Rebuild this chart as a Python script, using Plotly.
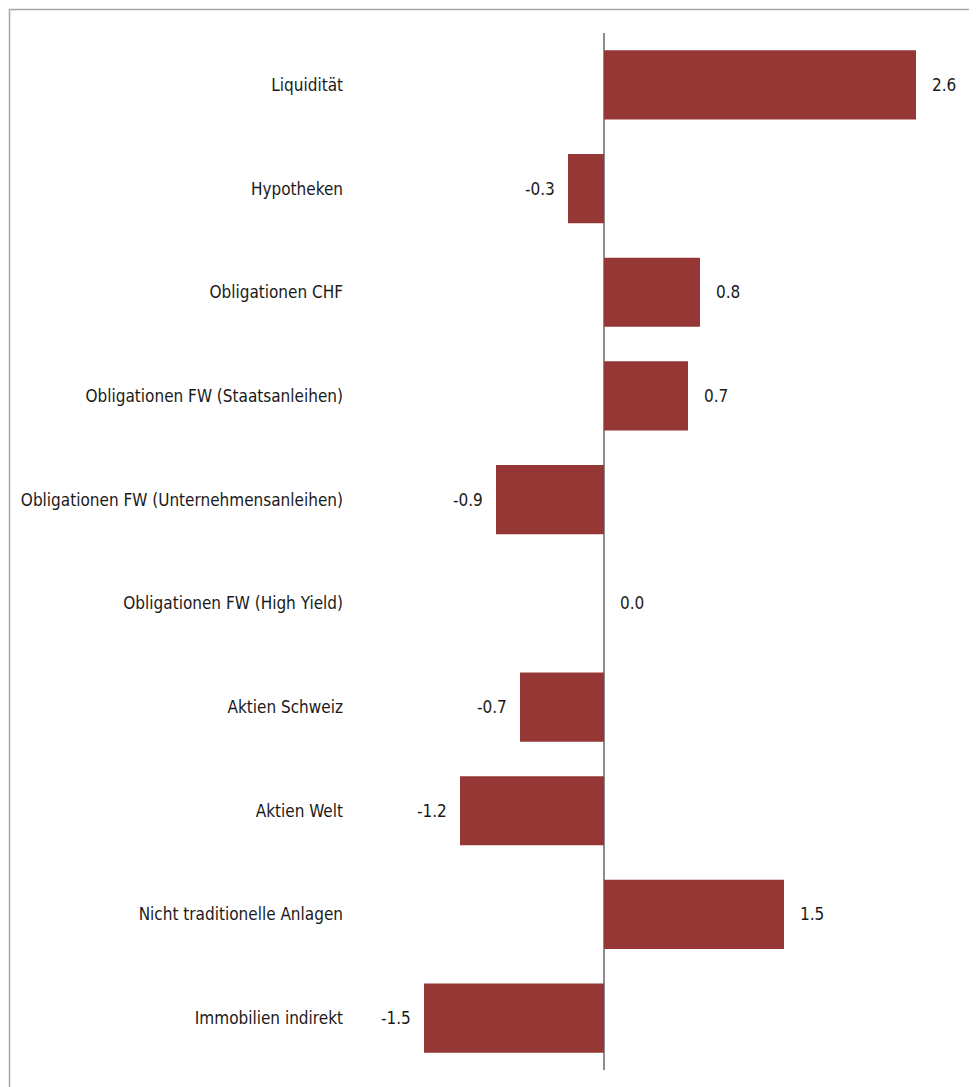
import plotly.graph_objects as go

categories = [
    "Liquidität",
    "Hypotheken",
    "Obligationen CHF",
    "Obligationen FW (Staatsanleihen)",
    "Obligationen FW (Unternehmensanleihen)",
    "Obligationen FW (High Yield)",
    "Aktien Schweiz",
    "Aktien Welt",
    "Nicht traditionelle Anlagen",
    "Immobilien indirekt",
]
values = [2.6, -0.3, 0.8, 0.7, -0.9, 0.0, -0.7, -1.2, 1.5, -1.5]

FONT = "Liberation Sans Narrow, DejaVu Sans Condensed, Arial Narrow, sans-serif"
BAR_COLOR = "#953735"

W, H = 977, 1087
L, R, T, B = 352, 25, 25, 25
pw, ph = W - L - R, H - T - B

fig = go.Figure(
    go.Bar(
        x=values,
        y=categories,
        orientation="h",
        marker=dict(color=BAR_COLOR, line=dict(width=0)),
        width=0.667,
        hoverinfo="skip",
    )
)

annotations = []
for c, v in zip(categories, values):
    annotations.append(
        dict(
            x=v, y=c, xref="x", yref="y",
            text=f"{v:.1f}",
            showarrow=False,
            xanchor="left" if v >= 0 else "right",
            xshift=14 if v >= 0 else -11,
            font=dict(family=FONT, size=17, color="#1a1a1a"),
        )
    )

def px_x(p):
    return (p - L) / pw

def px_y(p):
    return (H - B - p) / ph

shapes = [
    dict(
        type="rect", xref="paper", yref="paper",
        x0=px_x(1.5), x1=px_x(W + 20), y0=px_y(1.5), y1=px_y(H + 20),
        line=dict(color="#a6a6a6", width=1.5), fillcolor="rgba(0,0,0,0)",
        layer="below",
    )
]

fig.update_layout(
    width=W, height=H,
    margin=dict(l=L, r=R, t=T, b=B),
    paper_bgcolor="white", plot_bgcolor="white",
    showlegend=False,
    annotations=annotations,
    shapes=shapes,
    font=dict(family=FONT, size=17, color="#1a1a1a"),
    xaxis=dict(
        range=[-244 / 120, 356 / 120],
        showgrid=False, showticklabels=False, ticks="",
        zeroline=True, zerolinecolor="#8c8c8c", zerolinewidth=1.5,
        showline=False, fixedrange=True,
    ),
    yaxis=dict(
        autorange="reversed",
        showgrid=False, ticks="", showline=False, zeroline=False,
        automargin=False, ticklabelstandoff=16,
        tickfont=dict(family=FONT, size=17, color="#1a1a1a"),
    ),
)

fig.write_html("out.html")
